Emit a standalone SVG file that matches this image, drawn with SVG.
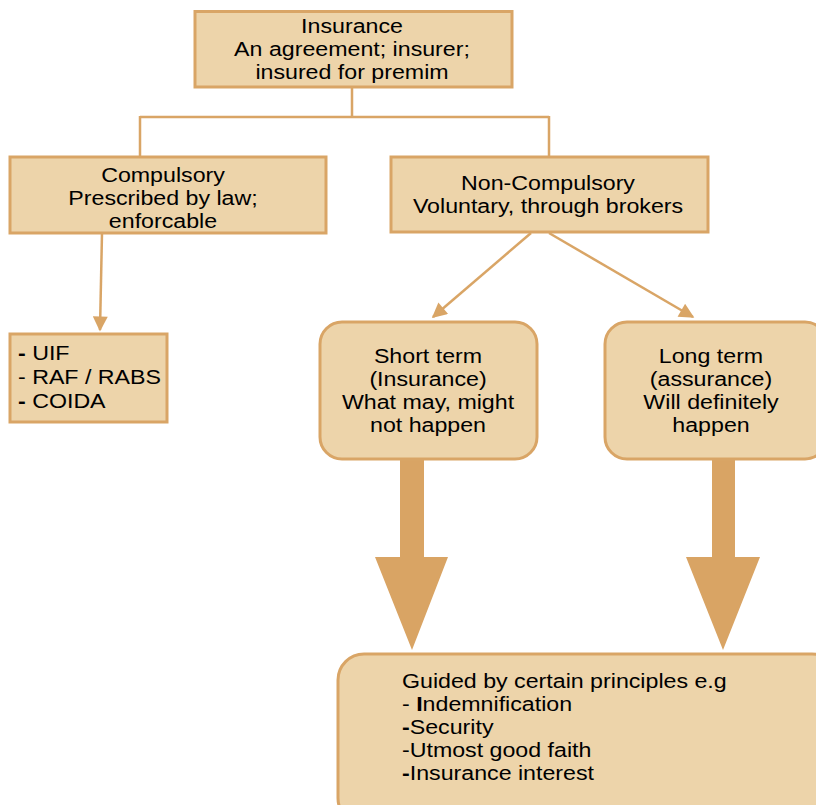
<svg xmlns="http://www.w3.org/2000/svg" width="816" height="805" viewBox="0 0 816 805">
<defs>
<style>
.box{fill:#EDD4AA;stroke:#D9A566;stroke-width:3}
.t{font-family:"Liberation Sans",Arial,sans-serif;font-size:20px;fill:#000}
.c{text-anchor:middle}
.b{font-weight:bold}
.ln{fill:none;stroke:#D9A566;stroke-width:2.5}
.big{fill:#D9A464}
</style>
<marker id="ah2" viewBox="0 0 10 10" refX="9" refY="5" markerWidth="7" markerHeight="6" orient="auto">
<path d="M0,0 L10,5 L0,10 Z" fill="#D9A566"/>
</marker>
</defs>
<rect width="816" height="805" fill="#fff"/>
<g id="connectors">
<path class="ln" d="M352,87 V117 M140,117 H549 M140,116 V157 M549,116 V157"/>
<line class="ln" x1="102" y1="233" x2="100" y2="330" marker-end="url(#ah2)"/>
<line class="ln" x1="531" y1="233" x2="433" y2="317" marker-end="url(#ah2)"/>
<line class="ln" x1="549" y1="233" x2="693" y2="317" marker-end="url(#ah2)"/>
<path class="big" d="M400,459 H424 V557 H448 L412,650 L375,557 H400 Z"/>
<path class="big" d="M712,459 H735 V557 H760 L723,650 L686,557 H712 Z"/>
</g>
<g id="insurance">
<rect class="box" x="195" y="11.5" width="317" height="75.5"/>
<g transform="translate(352,0) scale(1.16,1)">
<text class="t c" x="0" y="33">Insurance</text>
<text class="t c" x="0" y="56">An agreement; insurer;</text>
<text class="t c" x="0" y="79">insured for premim</text>
</g>
</g>
<g id="compulsory">
<rect class="box" x="10" y="157" width="316" height="76"/>
<g transform="translate(163,0) scale(1.16,1)">
<text class="t c" x="0" y="182">Compulsory</text>
<text class="t c" x="0" y="205">Prescribed by law;</text>
<text class="t c" x="0" y="228">enforcable</text>
</g>
</g>
<g id="noncompulsory">
<rect class="box" x="391" y="157" width="317" height="75"/>
<g transform="translate(548,0) scale(1.16,1)">
<text class="t c" x="0" y="190">Non-Compulsory</text>
<text class="t c" x="0" y="213">Voluntary, through brokers</text>
</g>
</g>
<g id="list">
<rect class="box" x="10" y="334" width="157" height="88"/>
<g transform="translate(18,0) scale(1.16,1)">
<text class="t" x="0" y="360"><tspan class="b">-</tspan> UIF</text>
<text class="t" x="0" y="384">- RAF / RABS</text>
<text class="t" x="0" y="408"><tspan class="b">-</tspan> COIDA</text>
</g>
</g>
<g id="shortterm">
<rect class="box" x="320" y="322" width="217" height="137" rx="22"/>
<g transform="translate(428,0) scale(1.16,1)">
<text class="t c" x="0" y="363">Short term</text>
<text class="t c" x="0" y="386">(Insurance)</text>
<text class="t c" x="0" y="409">What may, might</text>
<text class="t c" x="0" y="432">not happen</text>
</g>
</g>
<g id="longterm">
<rect class="box" x="605" y="322" width="222" height="137" rx="22"/>
<g transform="translate(711,0) scale(1.16,1)">
<text class="t c" x="0" y="363">Long term</text>
<text class="t c" x="0" y="386">(assurance)</text>
<text class="t c" x="0" y="409">Will definitely</text>
<text class="t c" x="0" y="432">happen</text>
</g>
</g>
<g id="principles">
<rect class="box" x="338" y="654" width="500" height="170" rx="26"/>
<g transform="translate(402,0) scale(1.16,1)">
<text class="t" x="0" y="688">Guided by certain principles e.g</text>
<text class="t" x="0" y="711">- <tspan class="b">I</tspan>ndemnification</text>
<text class="t" x="0" y="734"><tspan class="b">-</tspan>Security</text>
<text class="t" x="0" y="757">-Utmost good faith</text>
<text class="t" x="0" y="780"><tspan class="b">-</tspan>Insurance interest</text>
</g>
</g>
</svg>
